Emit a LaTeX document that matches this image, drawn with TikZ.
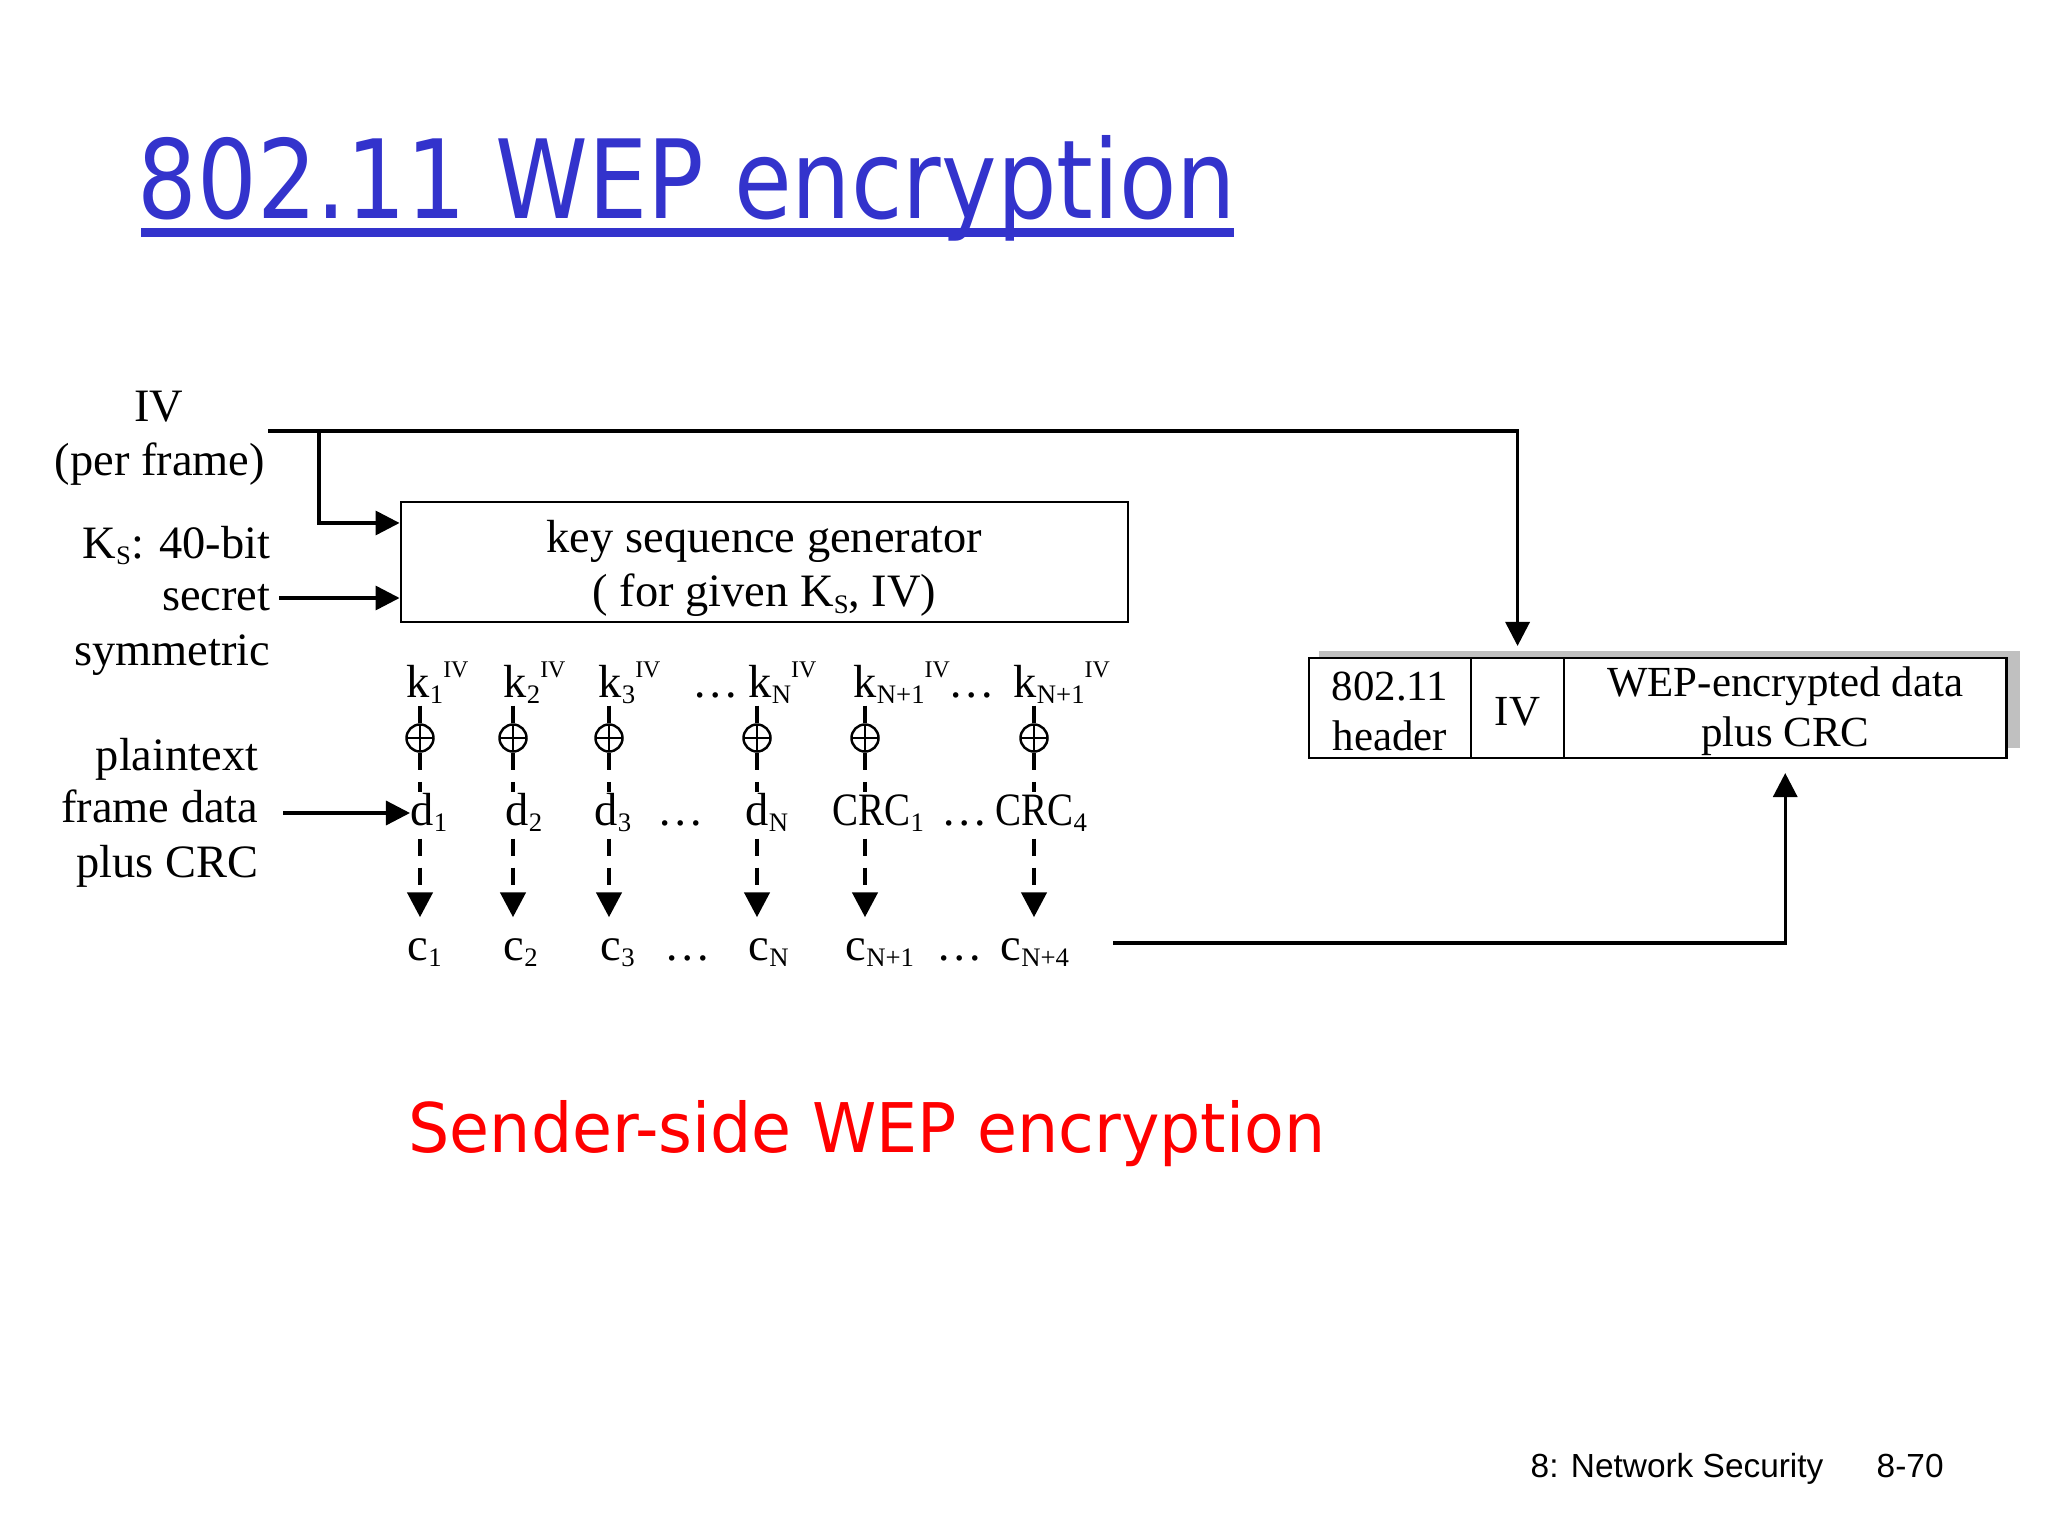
\documentclass[tikz,border=0pt]{standalone}
\usepackage{fontspec}
\setmainfont{Liberation Serif}
\newfontfamily\comicfont{DejaVu Sans}
\newfontfamily\slidefont{Liberation Sans}
\usetikzlibrary{arrows.meta,positioning,backgrounds}
\definecolor{titleblue}{RGB}{51,51,204}
\definecolor{sendred}{RGB}{255,0,0}
\definecolor{shadowgray}{RGB}{192,192,192}
\newcommand{\ix}[1]{\raisebox{-0.15em}{\fontsize{7.6}{7.6}\selectfont #1}}
\newcommand{\ivsup}{\raisebox{0.42em}{\fontsize{6.8}{6.8}\selectfont IV}}
\newcommand{\crc}{\scalebox{0.84}[1]{CRC}}
\tikzset{
  lbl/.style={inner sep=0pt, font=\fontsize{13.2}{15.6}\selectfont},
  rowlbl/.style={lbl, anchor=base west, text height=0.32cm, text depth=0.08cm},
  sidelbl/.style={lbl, anchor=base east, text height=0.32cm, text depth=0.08cm},
  arr/.style={line width=0.95pt, -{Triangle[length=0.24cm,width=0.24cm]}},
  dashln/.style={line width=1.3pt, dash pattern=on 0.17cm off 0.12cm},
  dasharr/.style={dashln, -{Triangle[length=0.25cm,width=0.25cm]}, shorten <=0.05cm, shorten >=0.1cm},
  xorop/.style={circle, draw, line width=0.7pt, minimum size=0.27cm, inner sep=0pt,
    path picture={\draw[line width=0.7pt] (path picture bounding box.north) -- (path picture bounding box.south)
      (path picture bounding box.west) -- (path picture bounding box.east);}},
  cell/.style={draw, line width=0.7pt, fill=white, minimum height=1cm, inner sep=0pt, outer sep=0pt,
    align=center, font=\fontsize{12.2}{14.2}\selectfont}
}
\begin{document}
\begin{tikzpicture}[x=0.01cm,y=-0.01cm]
\useasboundingbox (0,0) rectangle (2048,1536);

\node[anchor=base west, inner sep=0pt, text=titleblue] (title) at (137,218)
  {\resizebox{10.98cm}{0.83cm}{\comicfont 802.11 WEP encryption}};
\draw[titleblue, line width=0.09cm] (141,232) -- (1234,232);

\node[lbl, anchor=base] (ivlbl) at (159,421) {IV};
\node[lbl, anchor=base] (perframe) at (160,475) {(per frame)};
\node[sidelbl] (kslbl) at (271,558) {K\ix{S}: 40-bit};
\node[sidelbl] (secret) at (271,610) {secret};
\node[sidelbl] (symm) at (271,665) {symmetric};
\node[sidelbl] (plain) at (259,770) {plaintext};
\node[sidelbl] (framedata) at (259,822) {frame data};
\node[sidelbl] (pluscrc) at (259,877) {plus CRC};

\node[lbl, draw, line width=0.7pt, minimum width=7.27cm, minimum height=1.2cm, align=center] (gen) at (764.5,562)
  {\rule{0pt}{0.45cm}key sequence generator\\( for given K\ix{S}, IV)};

\foreach \i/\cx in {1/420,2/513,3/609,4/757,5/865,6/1034}
  \node[xorop] (o\i) at (\cx,738) {};
\foreach \i/\px/\lab in {1/406/1,2/503/2,3/598/3,4/748/N,5/853/N+1,6/1013/N+1}
  \node[rowlbl] (k\i) at (\px,697) {k\ix{\lab}\ivsup};
\foreach \i/\px/\lab in {1/410/d\ix{1},2/505/d\ix{2},3/594/d\ix{3},4/745/d\ix{N},5/832/\crc\ix{1},6/995/\crc\ix{4}}
  \node[rowlbl] (d\i) at (\px,825) {\lab};
\foreach \i/\px/\lab in {1/407/1,2/503/2,3/600/3,4/748/N,5/845/N+1,6/1000/N+4}
  \node[rowlbl] (c\i) at (\px,960) {c\ix{\lab}};
\foreach \i/\px/\py in {1/692/697,2/948/697,3/657/825,4/941/825,5/664/960,6/936/960}
  \node[rowlbl] (dots\i) at (\px,\py) {…};

\foreach \i in {1,...,6} {
  \draw[dashln] (o\i |- k\i.south) -- (o\i.north);
  \draw[dashln] (o\i.south) -- (o\i |- d\i.north);
  \draw[dasharr] (o\i |- d\i.south) -- (o\i |- c\i.north);
}

\node[cell, minimum width=1.62cm] (hdr) at (1390,708) {\rule{0pt}{0.36cm}802.11\\header};
\node[cell, minimum width=0.93cm, right=0pt of hdr] (ivf) {\rule{0pt}{0.36cm}IV};
\node[cell, minimum width=4.42cm, right=0pt of ivf] (dat) {\rule{0pt}{0.36cm}WEP-encrypted data\\plus CRC};
\begin{scope}[on background layer]
  \fill[shadowgray] ([xshift=0.1cm,yshift=0.07cm]hdr.north west) rectangle ([xshift=0.14cm,yshift=0.1cm]dat.south east);
\end{scope}

\coordinate (ivout) at (268,431);
\coordinate (ivtap) at (319,431);
\coordinate (cout) at (1113,943);
\draw[arr, shorten >=0.12cm] (ivout) -| (ivf.north);
\draw[arr] (ivtap) |- ([yshift=0.39cm]gen.west);
\draw[arr] ([xshift=0.08cm]secret.east) -- (secret.east -| gen.west);
\draw[arr] ([xshift=0.24cm]d1.west -| framedata.east) -- (d1.west);
\draw[arr, shorten >=0.15cm] (cout) -| (dat.south);

\node[anchor=base west, inner sep=0pt, text=sendred] (sender) at (408,1152)
  {\resizebox{9.16cm}{0.52cm}{\comicfont Sender-side WEP encryption}};

\node[anchor=base west, inner sep=0pt, font=\slidefont\fontsize{9.5}{11}\selectfont] (chap) at (1530,1477) {8: Network Security};
\node[anchor=base west, inner sep=0pt, font=\slidefont\fontsize{9.5}{11}\selectfont] (page) at (1876,1477) {8-70};
\end{tikzpicture}
\end{document}
